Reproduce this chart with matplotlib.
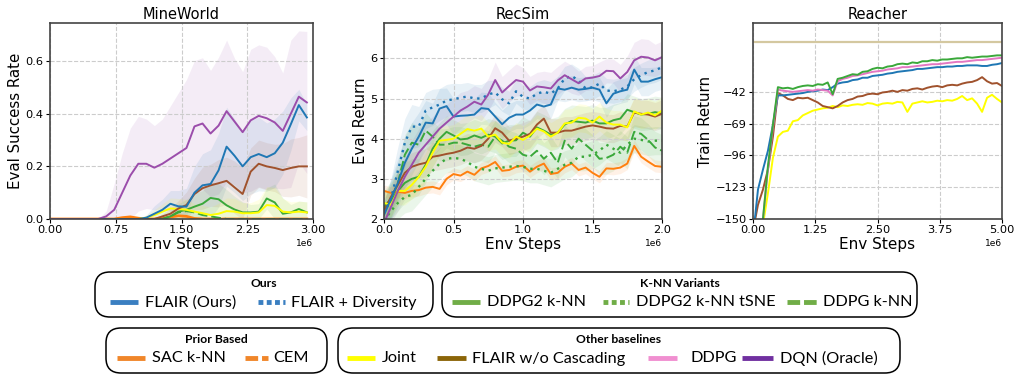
import numpy as np
import matplotlib
matplotlib.use("Agg")
import matplotlib.pyplot as plt
from matplotlib.patches import FancyBboxPatch
from matplotlib.lines import Line2D

# ---------------- data ----------------
# MineWorld (x in env steps)
mw_x = np.linspace(0, 2.93e6, 33)
mw_dqn = [0, 0, 0, 0, 0, 0, 0, 0.01, 0.035, 0.10, 0.165, 0.21, 0.21, 0.195, 0.21, 0.23, 0.25, 0.27,
          0.352, 0.363, 0.325, 0.355, 0.41, 0.37, 0.33, 0.375, 0.392, 0.383, 0.367, 0.335, 0.40, 0.465, 0.443]
mw_dqn_sd = [0, 0, 0, 0, 0, 0, 0, 0.02, 0.1, 0.15, 0.18, 0.18, 0.17, 0.16, 0.17, 0.2, 0.23, 0.26,
             0.25, 0.25, 0.24, 0.26, 0.27, 0.24, 0.23, 0.27, 0.27, 0.27, 0.25, 0.22, 0.28, 0.25, 0.27]
mw_flair = [0] * 12 + [0.005, 0.02, 0.035, 0.058, 0.048, 0.047, 0.10, 0.128, 0.133, 0.185, 0.275, 0.24,
                       0.20, 0.235, 0.247, 0.235, 0.25, 0.29, 0.36, 0.433, 0.386]
mw_flair_sd = [0] * 12 + [0.01, 0.03, 0.04, 0.05, 0.06, 0.07, 0.1, 0.12, 0.13, 0.14, 0.15, 0.14, 0.13,
                          0.14, 0.14, 0.13, 0.13, 0.12, 0.1, 0.06, 0.05]
mw_nocasc = [0] * 14 + [0.01, 0.02, 0.04, 0.053, 0.095, 0.117, 0.128, 0.136, 0.145, 0.12, 0.095, 0.18,
                        0.21, 0.20, 0.194, 0.186, 0.194, 0.20, 0.20]
mw_nocasc_sd = [0] * 14 + [0.01, 0.02, 0.03, 0.05, 0.06, 0.08, 0.08, 0.09, 0.09, 0.1, 0.1, 0.09, 0.09,
                           0.09, 0.09, 0.1, 0.11, 0.11, 0.12]
mw_ddpg2 = [0] * 15 + [0.01, 0.028, 0.035, 0.047, 0.058, 0.08, 0.075, 0.052, 0.036, 0.025, 0.025, 0.028,
                       0.078, 0.063, 0.02, 0.025, 0.038, 0.025]
mw_ddpg2_sd = [0] * 15 + [0.02, 0.03, 0.04, 0.05, 0.05, 0.06, 0.06, 0.06, 0.05, 0.04, 0.03, 0.03, 0.04,
                          0.07, 0.06, 0.03, 0.03, 0.04]
mw_joint = [0] * 12 + [0.005, 0.015, 0.028, 0.04, 0.038, 0.035, 0.028, 0.022, 0.015, 0.02, 0.03, 0.028,
                       0.022, 0.022, 0.025, 0.053, 0.05, 0.028, 0.025, 0.028, 0.025]
mw_joint_sd = [0] * 12 + [0.01, 0.02, 0.03, 0.04, 0.04, 0.04, 0.03, 0.03, 0.03, 0.04, 0.05, 0.05, 0.04,
                          0.04, 0.05, 0.07, 0.07, 0.05, 0.04, 0.04, 0.04]
mw_ddpgknn = [0] * 15 + [0.01, 0.025, 0.03, 0.025, 0.015, 0.01, 0.005] + [0] * 11
mw_sac = [0] * 9 + [0.005, 0.008, 0.003, 0, 0, 0.002, 0.008, 0.012, 0.01, 0.002] + [0] * 14

# RecSim
rs_x = np.linspace(0, 2.0e6, 41)
rs_dqn = [1.9, 2.3, 2.7, 3.05, 3.35, 3.65, 3.85, 4.05, 4.25, 4.4, 4.55, 4.7, 4.8, 4.92, 4.85, 5.1, 5.46,
          5.15, 5.31, 5.46, 5.42, 5.2, 5.3, 5.28, 5.25, 5.45, 5.58, 5.48, 5.38, 5.5, 5.52, 5.56, 5.69,
          5.68, 5.5, 5.66, 5.95, 6.04, 6.02, 5.95, 6.03]
rs_dqn_sd = [0.3, 0.4, 0.5, 0.55, 0.6, 0.6, 0.55, 0.5, 0.5, 0.45, 0.45, 0.45, 0.4, 0.4, 0.4, 0.4, 0.45,
             0.4, 0.4, 0.4, 0.35, 0.35, 0.35, 0.4, 0.4, 0.35, 0.35, 0.35, 0.3, 0.3, 0.3, 0.35, 0.3, 0.3,
             0.35, 0.4, 0.45, 0.45, 0.45, 0.4, 0.4]
rs_flair = [2.1, 2.5, 2.9, 3.4, 3.75, 4.05, 4.4, 4.38, 4.75, 4.81, 4.55, 4.57, 4.58, 4.6, 4.76, 4.74, 4.55,
            4.36, 4.52, 4.6, 4.6, 4.7, 4.85, 4.8, 4.85, 5.25, 5.22, 5.27, 5.22, 5.24, 5.27, 5.22, 4.88,
            5.12, 5.18, 5.22, 5.72, 5.42, 5.42, 5.48, 5.53]
rs_flair_sd = [0.3, 0.5, 0.6, 0.65, 0.65, 0.6, 0.55, 0.5, 0.5, 0.45, 0.45, 0.4, 0.4, 0.4, 0.4, 0.4, 0.35,
               0.35, 0.35, 0.35, 0.35, 0.35, 0.35, 0.35, 0.35, 0.3, 0.3, 0.3, 0.3, 0.3, 0.3, 0.3, 0.35,
               0.3, 0.3, 0.3, 0.35, 0.35, 0.35, 0.3, 0.3]
rs_div = [2.15, 2.5, 3.2, 3.9, 4.3, 4.3, 4.7, 4.78, 4.85, 4.95, 4.98, 5.02, 5.05, 5.0, 5.0, 5.1, 5.15,
          4.98, 4.88, 5.18, 5.04, 5.0, 5.12, 5.17, 5.12, 5.25, 5.5, 5.56, 5.45, 5.25, 5.28, 5.37, 5.2,
          5.18, 5.22, 5.3, 5.48, 5.58, 5.66, 5.7, 5.78]
rs_div_sd = [0.3, 0.5, 0.6, 0.6, 0.55, 0.5, 0.45, 0.45, 0.4, 0.4, 0.4, 0.35, 0.35, 0.35, 0.35, 0.35, 0.3,
             0.3, 0.3, 0.3, 0.3, 0.3, 0.3, 0.3, 0.3, 0.3, 0.3, 0.3, 0.3, 0.3, 0.3, 0.3, 0.3, 0.3, 0.3,
             0.3, 0.3, 0.3, 0.3, 0.3, 0.3]
rs_ddpg2 = [2.25, 2.45, 2.7, 2.9, 3.0, 3.05, 3.35, 3.75, 4.0, 4.17, 4.08, 3.98, 4.0, 4.08, 4.02, 4.1, 4.05,
            3.88, 3.95, 3.96, 4.15, 4.05, 4.28, 4.2, 4.1, 4.15, 4.35, 4.44, 4.42, 4.4, 4.45, 4.38, 4.38,
            4.46, 4.5, 4.72, 4.66, 4.6, 4.62, 4.66, 4.63]
rs_ddpg2_sd = [0.4, 0.45, 0.5, 0.5, 0.5, 0.45, 0.45, 0.45, 0.4, 0.4, 0.4, 0.4, 0.4, 0.4, 0.4, 0.4, 0.4,
               0.4, 0.4, 0.4, 0.4, 0.4, 0.4, 0.4, 0.4, 0.4, 0.4, 0.4, 0.4, 0.4, 0.4, 0.4, 0.4, 0.4, 0.4,
               0.4, 0.4, 0.4, 0.4, 0.4, 0.4]
rs_tsne = [1.95, 2.2, 2.4, 2.55, 2.6, 2.8, 3.0, 3.2, 3.38, 3.5, 3.52, 3.5, 3.42, 3.3, 3.25, 3.2, 3.26,
           3.28, 3.3, 3.32, 3.3, 3.25, 3.25, 3.2, 3.15, 3.25, 3.35, 3.4, 3.55, 3.55, 3.6, 3.7, 3.85,
           3.75, 3.65, 3.85, 4.0, 3.97, 3.93, 3.95, 3.95]
rs_tsne_sd = [0.3, 0.35, 0.4, 0.4, 0.4, 0.4, 0.4, 0.4, 0.4, 0.35, 0.35, 0.35, 0.35, 0.35, 0.35, 0.35,
              0.35, 0.35, 0.35, 0.35, 0.35, 0.35, 0.35, 0.35, 0.35, 0.35, 0.35, 0.35, 0.35, 0.35, 0.35,
              0.35, 0.35, 0.35, 0.35, 0.35, 0.35, 0.35, 0.35, 0.35, 0.35]
rs_ddpgknn = [2.3, 2.5, 2.9, 3.6, 3.9, 3.85, 4.2, 4.05, 3.85, 3.85, 3.9, 3.9, 3.85, 3.8, 3.85, 3.8, 4.05,
              3.95, 3.8, 3.75, 3.6, 3.55, 3.7, 3.5, 3.65, 3.4, 3.95, 3.75, 4.0, 3.85, 3.7, 3.5, 3.52,
              3.6, 3.8, 3.65, 4.17, 4.12, 3.97, 3.78, 3.7]
rs_ddpgknn_sd = [0.4, 0.45, 0.5, 0.5, 0.5, 0.45, 0.45, 0.4, 0.4, 0.4, 0.4, 0.4, 0.4, 0.4, 0.4, 0.4, 0.4,
                 0.4, 0.4, 0.4, 0.4, 0.4, 0.4, 0.4, 0.4, 0.4, 0.4, 0.4, 0.4, 0.4, 0.4, 0.4, 0.4, 0.4,
                 0.4, 0.4, 0.4, 0.4, 0.4, 0.4, 0.4]
rs_joint = [2.4, 2.35, 2.7, 2.7, 2.85, 3.05, 3.3, 3.65, 3.95, 3.97, 4.0, 4.12, 4.24, 4.2, 4.25, 4.05, 4.1,
            3.9, 3.87, 4.05, 3.97, 4.08, 4.25, 4.18, 4.05, 4.15, 4.38, 4.4, 4.52, 4.5, 4.4, 4.55, 4.4,
            4.35, 4.35, 4.28, 4.68, 4.6, 4.65, 4.58, 4.7]
rs_joint_sd = [0.3, 0.3, 0.35, 0.35, 0.35, 0.35, 0.35, 0.35, 0.35, 0.35, 0.35, 0.35, 0.35, 0.35, 0.35,
               0.35, 0.35, 0.35, 0.35, 0.35, 0.35, 0.35, 0.35, 0.35, 0.35, 0.35, 0.35, 0.35, 0.35, 0.35,
               0.35, 0.35, 0.35, 0.35, 0.35, 0.35, 0.35, 0.35, 0.35, 0.35, 0.35]
rs_nocasc = [2.2, 2.55, 2.85, 3.15, 3.3, 3.36, 3.4, 3.55, 3.58, 3.62, 3.65, 3.7, 3.78, 3.75, 3.82, 4.0,
             4.26, 4.15, 3.95, 4.0, 4.05, 4.12, 4.35, 4.5, 4.15, 4.15, 4.2, 4.2, 4.25, 4.3, 4.33, 4.3,
             4.26, 4.25, 4.32, 4.3, 4.65, 4.62, 4.6, 4.55, 4.62]
rs_nocasc_sd = [0.3, 0.3, 0.35, 0.35, 0.35, 0.35, 0.35, 0.35, 0.35, 0.35, 0.35, 0.35, 0.35, 0.35, 0.35,
                0.35, 0.35, 0.35, 0.35, 0.35, 0.35, 0.35, 0.35, 0.35, 0.35, 0.35, 0.35, 0.35, 0.35, 0.35,
                0.35, 0.35, 0.35, 0.35, 0.35, 0.35, 0.35, 0.35, 0.35, 0.35, 0.35]
rs_sac = [2.7, 2.65, 2.68, 2.65, 2.7, 2.72, 2.78, 2.8, 2.75, 3.0, 3.12, 3.08, 3.18, 3.1, 3.26, 3.32, 3.42,
          3.2, 3.22, 3.3, 3.33, 3.18, 3.3, 3.38, 3.12, 3.15, 3.3, 3.38, 3.22, 3.28, 3.15, 3.05, 3.26,
          3.25, 3.28, 3.38, 3.82, 3.55, 3.43, 3.32, 3.3]
rs_sac_sd = [0.15, 0.15, 0.15, 0.15, 0.15, 0.15, 0.15, 0.15, 0.15, 0.15, 0.15, 0.15, 0.15, 0.15, 0.15,
             0.15, 0.15, 0.15, 0.15, 0.15, 0.15, 0.15, 0.15, 0.15, 0.15, 0.15, 0.15, 0.15, 0.15, 0.15,
             0.15, 0.15, 0.15, 0.15, 0.15, 0.15, 0.15, 0.15, 0.15, 0.15, 0.15]

# Reacher
re_x = np.linspace(0, 5.0e6, 51)
re_max = 0.0
re_ddpg2 = [-175, -165, -150, -105, -70, -38, -39, -38.5, -39.5, -38, -37, -36.5, -37, -35.5, -36, -34,
            -44, -31, -30, -28.5, -27, -27.5, -25, -24.5, -22.5, -21.5, -22, -20.5, -20, -18.5, -18,
            -18.5, -17, -17.5, -16, -16, -15, -15.5, -14.5, -14.5, -14, -13.5, -13.5, -12.5, -13,
            -12.5, -12, -12, -11.5, -11, -11]
re_ddpg = [-175, -165, -150, -108, -72, -40, -41, -41.5, -42, -41.5, -41, -40.5, -41, -40, -40.5, -41,
           -45, -33, -31, -30, -28.5, -28, -27, -26, -25, -24.5, -24, -23, -22.5, -22, -21, -21, -20.5,
           -20, -19.5, -19, -18.5, -18.5, -18, -17.5, -17, -16.5, -16.5, -16, -15.5, -15, -15, -14.5,
           -14, -13.5, -13]
re_flair = [-165, -125, -108, -92, -70, -45, -45, -44.5, -44, -43.5, -43, -42, -41.5, -41, -40, -40.5,
            -38, -35, -34, -33.5, -32, -31.5, -30, -30, -28.5, -28, -27.5, -26.5, -26, -25, -24.5, -24,
            -23.5, -22.5, -22.5, -22, -21.5, -21, -21, -20.5, -20.5, -20, -20, -19.5, -19.5, -19.5, -20,
            -20, -19, -18.5, -17.5]
re_nocasc = [-160, -138, -125, -108, -80, -43, -45, -48, -49, -47, -47.5, -47, -49, -51, -54, -55, -56,
             -54, -51, -49, -48, -46, -45.5, -44, -43.5, -44, -42.5, -42, -41, -42, -40.5, -41, -39.5,
             -39, -40, -38.5, -37.5, -37, -38, -36.5, -36, -36.5, -35, -34, -33.5, -32, -29.5, -33, -35,
             -34.5, -37]
re_joint = [-185, -175, -155, -128, -98, -80, -76, -75, -67, -66, -62, -60, -58, -57, -56, -55.5, -54,
            -55, -53.5, -54, -53, -52.5, -53, -51.5, -52, -53.5, -52, -51.5, -52, -50.5, -51, -59, -52,
            -51, -50, -51, -50.5, -49.5, -50, -49, -49.5, -48, -45.5, -49, -47.5, -52, -59, -47, -44.5,
            -48, -51]

# ---------------- style ----------------
C_BLUE = "#1f77b4"
C_PURPLE = "#9b4dab"
C_BROWN = "#a0522d"
C_GREEN = "#3aa83a"
C_ORANGE = "#ff7f0e"
C_YELLOW = "#ffff00"
C_PINK = "#e377c2"
C_TAN = "#d4c8a0"

plt.rcParams["font.family"] = ["DejaVu Sans"]
fig = plt.figure(figsize=(10.16, 3.75), dpi=100)

W, H = 1016.0, 375.0


def add_ax(left, right, top=23, bottom=219):
    return fig.add_axes([left / W, 1 - bottom / H, (right - left) / W, (bottom - top) / H])


def style(ax, title, ylabel):
    ax.set_title(title, fontsize=10.5, pad=3)
    ax.set_ylabel(ylabel, fontsize=10.8, labelpad=2)
    ax.set_xlabel("Env Steps", fontsize=11, labelpad=1)
    ax.tick_params(labelsize=8.2, length=3, pad=1.5)
    ax.xaxis.get_offset_text().set_fontsize(6.5)
    ax.grid(True, linestyle="--", color="#cccccc", linewidth=0.8)
    for s in ax.spines.values():
        s.set_color("#444444")
        s.set_linewidth(1.2)


def band(ax, x, m, sd, color, lo_clip=None):
    m = np.asarray(m, float)
    sd = np.asarray(sd, float)
    lo = m - sd
    if lo_clip is not None:
        lo = np.maximum(lo, lo_clip)
    ax.fill_between(x, lo, m + sd, color=color, alpha=0.1, linewidth=0)


LW = 1.4

# MineWorld
ax1 = add_ax(50, 313)
band(ax1, mw_x, mw_dqn, mw_dqn_sd, C_PURPLE, 0)
band(ax1, mw_x, mw_flair, mw_flair_sd, C_BLUE, 0)
band(ax1, mw_x, mw_nocasc, mw_nocasc_sd, C_BROWN, 0)
band(ax1, mw_x, mw_ddpg2, mw_ddpg2_sd, C_GREEN, 0)
band(ax1, mw_x, mw_joint, mw_joint_sd, C_YELLOW, 0)
ax1.plot(mw_x, mw_sac, color=C_ORANGE, lw=LW + 0.6)
ax1.plot(mw_x, mw_ddpgknn, color=C_GREEN, lw=LW, ls=(0, (5, 2)))
ax1.plot(mw_x, mw_ddpg2, color=C_GREEN, lw=LW)
ax1.plot(mw_x, mw_joint, color=C_YELLOW, lw=LW)
ax1.plot(mw_x, mw_nocasc, color=C_BROWN, lw=LW)
ax1.plot(mw_x, mw_flair, color=C_BLUE, lw=LW)
ax1.plot(mw_x, mw_dqn, color=C_PURPLE, lw=LW)
ax1.set_xlim(0, 3.0e6)
ax1.set_ylim(0, 0.745)
ax1.set_xticks([0, 0.75e6, 1.5e6, 2.25e6, 3.0e6])
ax1.set_yticks([0, 0.2, 0.4, 0.6])
style(ax1, "MineWorld", "Eval Success Rate")

# RecSim
ax2 = add_ax(384, 662)
for m, sd, c in [(rs_dqn, rs_dqn_sd, C_PURPLE), (rs_flair, rs_flair_sd, C_BLUE), (rs_div, rs_div_sd, C_BLUE),
                 (rs_ddpg2, rs_ddpg2_sd, C_GREEN), (rs_tsne, rs_tsne_sd, C_GREEN),
                 (rs_ddpgknn, rs_ddpgknn_sd, C_GREEN), (rs_joint, rs_joint_sd, C_YELLOW),
                 (rs_nocasc, rs_nocasc_sd, C_BROWN), (rs_sac, rs_sac_sd, C_ORANGE)]:
    band(ax2, rs_x, m, sd, c)
ax2.plot(rs_x, rs_sac, color=C_ORANGE, lw=LW)
ax2.plot(rs_x, rs_tsne, color=C_GREEN, lw=LW + 0.3, ls=(0, (1, 2)))
ax2.plot(rs_x, rs_ddpgknn, color=C_GREEN, lw=LW, ls=(0, (5, 2)))
ax2.plot(rs_x, rs_ddpg2, color=C_GREEN, lw=LW)
ax2.plot(rs_x, rs_nocasc, color=C_BROWN, lw=LW)
ax2.plot(rs_x, rs_joint, color=C_YELLOW, lw=LW)
ax2.plot(rs_x, rs_div, color=C_BLUE, lw=LW + 0.3, ls=(0, (1, 2)))
ax2.plot(rs_x, rs_flair, color=C_BLUE, lw=LW)
ax2.plot(rs_x, rs_dqn, color=C_PURPLE, lw=LW)
ax2.set_xlim(0, 2.0e6)
ax2.set_ylim(2, 6.88)
ax2.set_xticks([0, 0.5e6, 1.0e6, 1.5e6, 2.0e6])
ax2.set_yticks([2, 3, 4, 5, 6])
style(ax2, "RecSim", "Eval Return")

# Reacher
ax3 = add_ax(753, 1002)
ax3.axhline(re_max, color=C_TAN, lw=1.6)
ax3.plot(re_x, re_joint, color=C_YELLOW, lw=LW)
ax3.plot(re_x, re_nocasc, color=C_BROWN, lw=LW)
ax3.plot(re_x, re_flair, color=C_BLUE, lw=LW)
ax3.plot(re_x, re_ddpg, color=C_PINK, lw=LW)
ax3.plot(re_x, re_ddpg2, color=C_GREEN, lw=LW)
ax3.set_xlim(0, 5.0e6)
ax3.set_ylim(-150, 16.5)
ax3.set_xticks([0, 1.25e6, 2.5e6, 3.75e6, 5.0e6])
ax3.set_yticks([-150, -123, -96, -69, -42])
style(ax3, "Reacher", "Train Return")

# ---------------- custom grouped legend ----------------
lax = fig.add_axes([0, 0, 1, 1], zorder=5)
lax.set_xlim(0, W)
lax.set_ylim(H, 0)
lax.axis("off")
LFONT = ["Lato", "DejaVu Sans"]

L_BLUE = "#3a7fc1"
L_GREEN = "#70ad47"
L_ORANGE = "#f0862a"
L_YELLOW = "#ffff00"
L_BROWN = "#8b6508"
L_PINK = "#f08fd0"
L_PURPLE = "#7030a0"

groups = [
    ("Ours", (95, 433, 272, 317), [
        (110, 138, "-", L_BLUE, 145, "FLAIR (Ours)"),
        (258, 285, ":", L_BLUE, 291, "FLAIR + Diversity"),
    ]),
    ("K-NN Variants", (442, 917, 272, 317), [
        (452, 480, "-", L_GREEN, 487, "DDPG2 k-NN"),
        (603, 629, ":", L_GREEN, 636, "DDPG2 k-NN tSNE"),
        (787, 818, "--", L_GREEN, 823, "DDPG k-NN"),
    ]),
    ("Prior Based", (106, 327, 328, 373), [
        (117, 145, "-", L_ORANGE, 152, "SAC k-NN"),
        (245, 268, "--", L_ORANGE, 273, "CEM"),
    ]),
    ("Other baselines", (338, 900, 328, 373), [
        (347, 375, "-", L_YELLOW, 382, "Joint"),
        (437, 466, "-", L_BROWN, 472, "FLAIR w/o Cascading"),
        (648, 677, "-", L_PINK, 691, "DDPG"),
        (742, 773, "-", L_PURPLE, 780, "DQN (Oracle)"),
    ]),
]
dash_map = {"-": "solid", ":": (0, (1.0, 0.7)), "--": (0, (2.6, 0.8))}
for title, (x0, x1, y0, y1), entries in groups:
    box = FancyBboxPatch((x0, y0), x1 - x0, y1 - y0, boxstyle="round,pad=0,rounding_size=15",
                         facecolor="white", edgecolor="black", linewidth=1.1)
    lax.add_patch(box)
    lax.text((x0 + x1) / 2, y0 + 11.5, title, ha="center", va="center", fontsize=8.7,
             fontweight="bold", family=LFONT)
    ye = y0 + 30
    for hx0, hx1, ls, col, tx, label in entries:
        lax.add_line(Line2D([hx0, hx1], [ye, ye], color=col, lw=3.5, ls=dash_map[ls],
                            solid_capstyle="butt", dash_capstyle="butt"))
        lax.text(tx, ye + 0.5, label, ha="left", va="center", fontsize=11.7, family=LFONT)

fig.savefig("out.png", dpi=100)
